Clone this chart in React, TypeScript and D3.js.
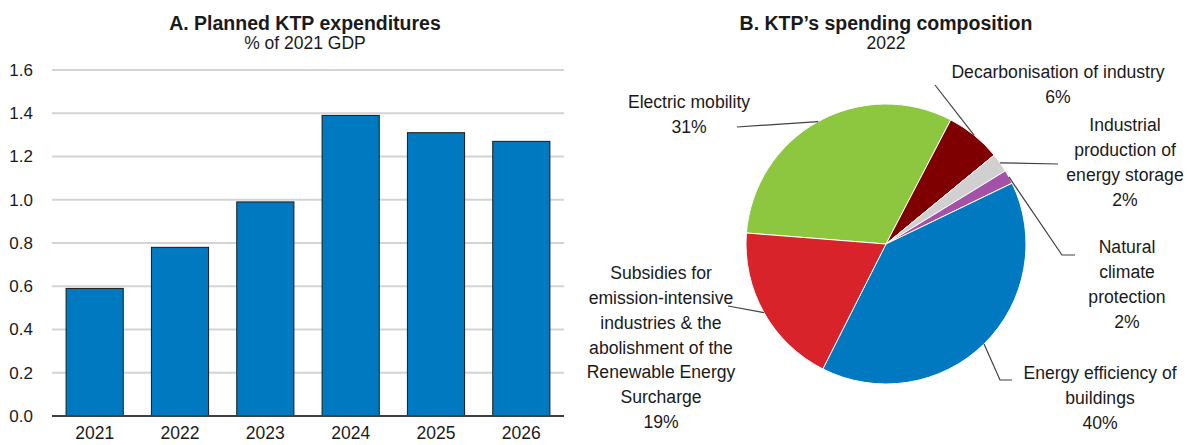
import * as d3 from "d3";

// Panel A: planned KTP expenditures, % of 2021 GDP
const years = ["2021", "2022", "2023", "2024", "2025", "2026"];
const expenditure = [0.59, 0.78, 0.99, 1.39, 1.31, 1.27];
const yTicks = [0, 0.2, 0.4, 0.6, 0.8, 1.0, 1.2, 1.4, 1.6];

// Panel B: KTP spending composition 2022 (shares, %)
const sliceNames = [
  "Electric mobility",
  "Decarbonisation of industry",
  "Industrial production of energy storage",
  "Natural climate protection",
  "Energy efficiency of buildings",
  "Subsidies for emission-intensive industries & the abolishment of the Renewable Energy Surcharge",
];
const sliceShares = [31.4, 6.4, 2.2, 1.6, 39.6, 18.8];
const sliceLabels = ["31%", "6%", "2%", "2%", "40%", "19%"];
const sliceColors = ["#8dc63f", "#7f0000", "#d0d0d0", "#a352a8", "#0079c1", "#d9232a"];

// label text lines, placement (layout only)
const labelLayout = [
  { lines: ["Electric mobility"], x: 689, y: 102, path: [[737, 127]] },
  { lines: ["Decarbonisation of industry"], x: 1058, y: 72, path: [[935, 85]] },
  { lines: ["Industrial", "production of", "energy storage"], x: 1125, y: 125, path: [[1058, 164]] },
  { lines: ["Natural", "climate", "protection"], x: 1127, y: 247, path: [[1062, 255], [1075, 255]] },
  { lines: ["Energy efficiency of", "buildings"], x: 1100, y: 373, path: [[1000, 380], [1012, 380]] },
  {
    lines: ["Subsidies for", "emission-intensive", "industries & the", "abolishment of the", "Renewable Energy", "Surcharge"],
    x: 661, y: 273, path: [[728, 306]],
  },
];

const FONT = "'Liberation Sans Narrow', 'Arial Narrow', 'Liberation Sans', Arial, sans-serif";
const LINE = 24.8;

const BarPanel = () => {
  const x = d3.scaleBand().domain(years).range([52, 564]).paddingInner(0.33).paddingOuter(0.165);
  const y = d3.scaleLinear().domain([0, 1.6]).range([416, 70]);

  return (
    <g>
      <text x={305} y={30} textAnchor="middle" fontWeight="bold" fontSize={19.5}>
        A. Planned KTP expenditures
      </text>
      <text x={305} y={49} textAnchor="middle" fontSize={17.5}>
        % of 2021 GDP
      </text>
      {yTicks.slice(1).map((t) => (
        <line key={t} x1={52} x2={564} y1={y(t)} y2={y(t)} stroke="#d4d4d4" strokeWidth={1.8} />
      ))}
      {yTicks.map((t) => (
        <text key={"l" + t} x={33} y={y(t)} dy="0.35em" textAnchor="end" fontSize={17}>
          {t.toFixed(1)}
        </text>
      ))}
      {expenditure.map((v, i) => (
        <rect
          key={years[i]}
          x={x(years[i])}
          y={y(v)}
          width={x.bandwidth()}
          height={y(0) - y(v)}
          fill="#0079c1"
          stroke="#1a1a1a"
          strokeWidth={1}
        />
      ))}
      <line x1={52} x2={564} y1={y(0)} y2={y(0)} stroke="#404040" strokeWidth={2} />
      {years.map((yr) => (
        <text key={"x" + yr} x={(x(yr) as number) + x.bandwidth() / 2} y={439} textAnchor="middle" fontSize={17.5}>
          {yr}
        </text>
      ))}
    </g>
  );
};

const PiePanel = () => {
  const cx = 886;
  const cy = 244;
  const r = 140;
  const start = (-85.5 * Math.PI) / 180;
  const pie = d3.pie<number>().sort(null).startAngle(start).endAngle(start + 2 * Math.PI);
  const arcs = pie(sliceShares);
  const arc = d3.arc<d3.PieArcDatum<number>>().innerRadius(0).outerRadius(r);

  return (
    <g>
      <text x={cx} y={30} textAnchor="middle" fontWeight="bold" fontSize={19.5}>
        B. KTP’s spending composition
      </text>
      <text x={cx} y={49} textAnchor="middle" fontSize={17.5}>
        2022
      </text>
      <g transform={`translate(${cx},${cy})`}>
        {arcs.map((a, i) => (
          <path key={sliceNames[i]} d={arc(a) || ""} fill={sliceColors[i]} stroke="#ffffff" strokeWidth={1} />
        ))}
      </g>
      {arcs.map((a, i) => {
        const mid = (a.startAngle + a.endAngle) / 2;
        const p0: [number, number] = [cx + r * Math.sin(mid), cy - r * Math.cos(mid)];
        const pts = [p0, ...(labelLayout[i].path as [number, number][])];
        return (
          <path key={"ld" + i} d={d3.line()(pts) || ""} fill="none" stroke="#404040" strokeWidth={1.2} />
        );
      })}
      {labelLayout.map((lab, i) => (
        <text key={"t" + i} x={lab.x} y={lab.y} textAnchor="middle" fontSize={17.6}>
          {[...lab.lines, sliceLabels[i]].map((ln, j) => (
            <tspan key={j} x={lab.x} y={lab.y + j * LINE} dy="0.35em">
              {ln}
            </tspan>
          ))}
        </text>
      ))}
    </g>
  );
};

export default function App() {
  return (
    <div style={{ position: "absolute", left: 0, top: 0, background: "#fff" }}>
      <svg width={1189} height={445} style={{ display: "block", fontFamily: FONT }} fill="#1a1a1a">
        <rect width={1189} height={445} fill="#ffffff" />
        <BarPanel />
        <PiePanel />
      </svg>
    </div>
  );
}
